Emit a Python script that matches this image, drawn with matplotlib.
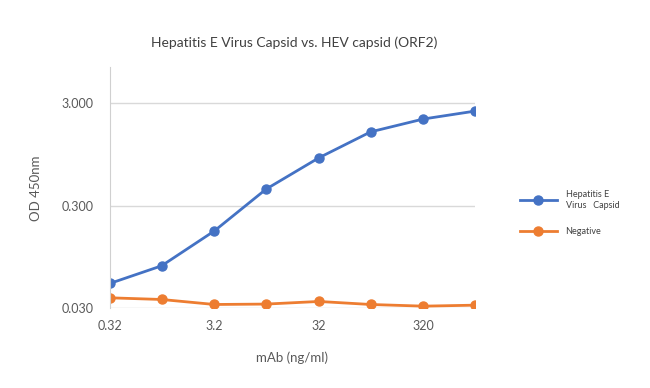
import matplotlib.pyplot as plt

plt.rcParams['font.family'] = ['Lato', 'DejaVu Sans']

# data
mab = [0.32, 1.0, 3.2, 10, 32, 100, 320, 1000]
hev_capsid = [0.0526, 0.0781, 0.171, 0.437, 0.883, 1.58, 2.11, 2.52]
negative = [0.0381, 0.0367, 0.0328, 0.0331, 0.0351, 0.0328, 0.0316, 0.0323]
xtick_vals = [0.32, 3.2, 32, 320]
xtick_labels = ['0.32', '3.2', '32', '320']
ytick_vals = [0.03, 0.3, 3.0]
ytick_labels = ['0.030', '0.300', '3.000']

fig = plt.figure(figsize=(6.5, 3.88), dpi=100)
ax = fig.add_axes([0.169, 0.205, 0.562, 0.622])

ax.plot(mab, hev_capsid, color='#4472C4', lw=2, marker='o', ms=6.5,
        label='Hepatitis E\nVirus   Capsid')
ax.plot(mab, negative, color='#ED7D31', lw=2, marker='o', ms=6.5,
        label='Negative')

ax.set_xscale('log')
ax.set_yscale('log')
ax.set_xlim(0.32, 1000)
ax.set_ylim(0.03, 6.76)
ax.set_xticks(xtick_vals)
ax.set_xticklabels(xtick_labels)
ax.set_yticks(ytick_vals)
ax.set_yticklabels(ytick_labels)
ax.minorticks_off()
ax.tick_params(length=0, labelsize=9, colors='#595959', pad=8)
ax.tick_params(axis='y', pad=12)
ax.yaxis.grid(True, color='#d9d9d9', lw=1)
for s in ['top', 'right', 'bottom']:
    ax.spines[s].set_visible(False)
ax.spines['left'].set_color('#d0d0d0')
for lab in ax.get_xticklabels() + ax.get_yticklabels():
    lab.set_clip_on(False)

ax.set_xlabel('mAb (ng/ml)', fontsize=9.5, color='#595959', labelpad=14)
ax.set_ylabel('OD 450nm', fontsize=9.5, color='#595959', labelpad=14)
fig.text(0.452, 0.89, 'Hepatitis E Virus Capsid vs. HEV capsid (ORF2)',
         ha='center', va='center', fontsize=10, color='#404040')

ax.legend(loc='center left', bbox_to_anchor=(1.114, 0.395), frameon=False,
          fontsize=6.5, labelcolor='#404040', handlelength=4,
          handletextpad=1.0, labelspacing=1.9, borderaxespad=0)

fig.savefig('out.png', dpi=100)
